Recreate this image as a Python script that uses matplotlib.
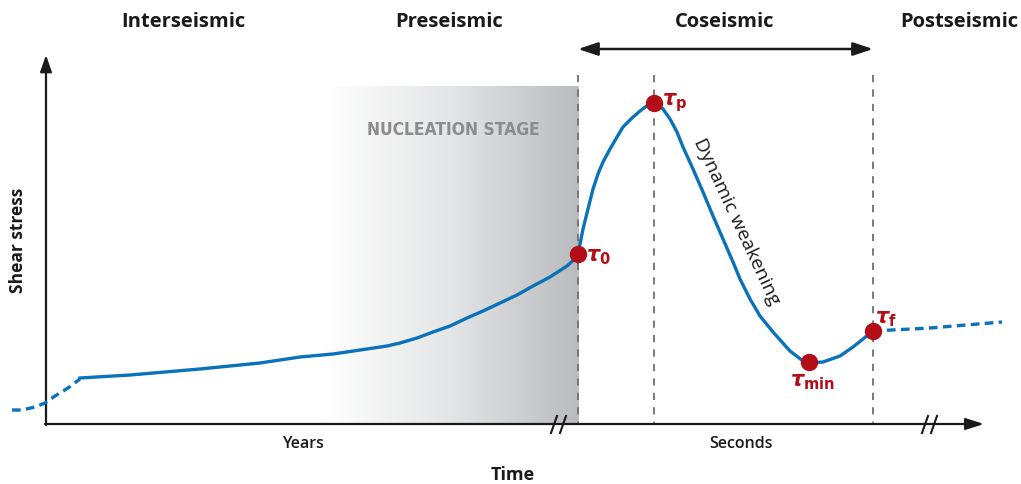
import matplotlib
matplotlib.use("Agg")
import matplotlib.pyplot as plt
import numpy as np
from matplotlib.colors import LinearSegmentedColormap

# curve traced in picture units (x to the right, y downwards)
lead_x = [12, 22, 35, 45, 55, 68, 80]
lead_y = [411, 411, 408, 404, 397, 389, 380]

inter_x = [80, 130, 200, 260, 300, 333, 367, 387, 400, 417, 433, 450, 467, 483,
           500, 517, 533, 550, 567, 578]
inter_y = [379, 376, 370, 364, 358, 355, 350, 347, 344, 339, 333, 327, 319, 312,
           304, 296, 287, 278, 267, 257]

co_x = [578, 583, 588, 593, 598, 603, 610, 617, 623, 632, 640, 648, 654,
        657, 663, 670, 677, 683, 693, 703, 713, 723, 733, 740, 750, 760, 773,
        790, 803, 809, 823, 840, 853, 863, 873]
co_y = [255, 230, 210, 190, 175, 163, 150, 138, 128, 119, 112, 106, 104,
        105, 110, 120, 133, 148, 170, 193, 217, 240, 263, 280, 300, 317, 333,
        352, 362, 364, 363, 357, 348, 340, 332]

tail_x = [873, 930, 1002]
tail_y = [332, 329, 323]

key_x = [578, 654, 809, 873]
key_y = [255, 104, 363, 332]
key_labels = [r"$\tau_\mathregular{0}$", r"$\tau_\mathregular{p}$",
              r"$\tau_\mathregular{min}$", r"$\tau_\mathregular{f}$"]

phase_names = ["Interseismic", "Preseismic", "Coseismic", "Postseismic"]
phase_x = [183, 449, 725, 959]

blue = "#0a72ba"
red = "#b30d17"
ink = "#1a1a1a"

plt.rcParams["mathtext.fontset"] = "custom"
plt.rcParams["mathtext.it"] = "DejaVu Sans:italic:bold"
plt.rcParams["mathtext.rm"] = "DejaVu Sans:bold"

fig = plt.figure(figsize=(10.21, 4.85), dpi=100)
ax = fig.add_axes([0, 0, 1, 1])
ax.set_xlim(0, 1021)
ax.set_ylim(485, 0)
ax.axis("off")

# nucleation gradient
cmap = LinearSegmentedColormap.from_list("nuc", ["#ffffff", "#e4e5e6", "#b9bbbe"])
grad = np.linspace(0, 1, 256).reshape(1, -1)
ax.imshow(grad, extent=[323, 578, 425, 87], cmap=cmap, aspect="auto", zorder=0)
ax.text(453, 130, "NUCLEATION STAGE", ha="center", va="center", fontsize=12.5,
        color="#8c8c8c", fontweight="bold", family="DejaVu Sans", fontstretch="condensed")

# dashed guide lines
for gx in [578, 654, 873]:
    ax.plot([gx, gx], [76, 425], color="#707070", lw=1.3, ls=(0, (4, 4)), zorder=1)

# axes with arrows
ax.annotate("", xy=(46, 56), xytext=(46, 426),
            arrowprops=dict(arrowstyle="-|>,head_length=1.0,head_width=0.35",
                            color=ink, lw=1.6, shrinkA=0, shrinkB=0))
ax.annotate("", xy=(984, 425), xytext=(45, 425),
            arrowprops=dict(arrowstyle="-|>,head_length=1.1,head_width=0.35",
                            color=ink, lw=1.6, shrinkA=0, shrinkB=0))
for bx in [551, 560, 922, 931]:
    ax.plot([bx, bx + 6], [434, 417], color=ink, lw=1.5, zorder=3)

# coseismic span arrow
ax.annotate("", xy=(578, 50), xytext=(873, 50),
            arrowprops=dict(arrowstyle="<|-|>,head_length=1.2,head_width=0.4",
                            color=ink, lw=1.8, shrinkA=0, shrinkB=0))

# stress curve
ax.plot(lead_x, lead_y, color=blue, lw=2.4, ls=(0, (2.6, 1.6)), zorder=4)
ax.plot(inter_x, inter_y, color=blue, lw=2.4, solid_joinstyle="round", zorder=4)
ax.plot(co_x, co_y, color=blue, lw=2.4, solid_joinstyle="round", zorder=4)
ax.plot(tail_x, tail_y, color=blue, lw=2.4, ls=(0, (2.6, 1.6)), zorder=4)
ax.plot(key_x, key_y, "o", color=red, markersize=11.5, zorder=5)

label_dx = [20, 21, 3, 13]
label_dy = [2, -1, 19, -13]
for x, y, t, dx, dy in zip(key_x, key_y, key_labels, label_dx, label_dy):
    ax.text(x + dx, y + dy, t, color=red, fontsize=15, fontweight="bold",
            ha="center", va="center", zorder=6)

ax.text(737, 222, "Dynamic weakening", rotation=-65, ha="center", va="center",
        fontsize=14, color=ink, family="Open Sans", rotation_mode="anchor")

# phase titles
for name, px in zip(phase_names, phase_x):
    ax.text(px, 22, name, ha="center", va="center", fontsize=14.5,
            fontweight="bold", family="Open Sans", color=ink)

ax.text(303, 444, "Years", ha="center", va="center", fontsize=11.5,
        fontweight="semibold", family="Open Sans", color=ink)
ax.text(741, 444, "Seconds", ha="center", va="center", fontsize=11.5,
        fontweight="semibold", family="Open Sans", color=ink)
ax.text(513, 475, "Time", ha="center", va="center", fontsize=13,
        fontweight="bold", family="Open Sans", color=ink)
ax.text(18, 240, "Shear stress", ha="center", va="center", rotation=90, fontsize=12.5,
        fontweight="bold", family="Open Sans", color=ink)

fig.savefig("out.png", dpi=100)
